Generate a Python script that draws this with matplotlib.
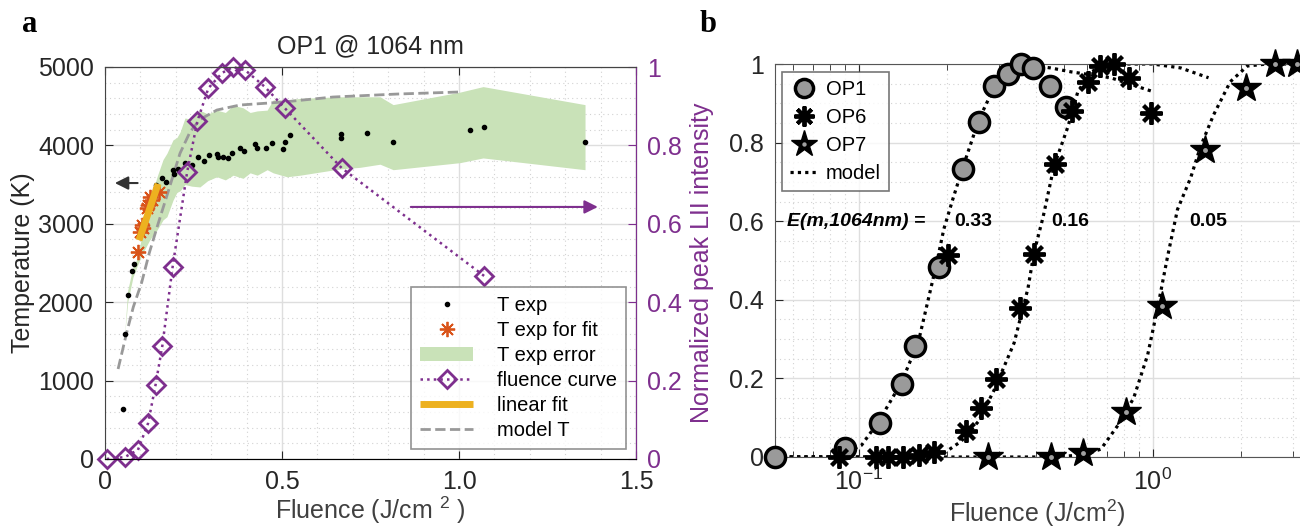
import matplotlib.pyplot as plt
from matplotlib.ticker import MultipleLocator, FixedLocator, FixedFormatter, LogLocator, NullFormatter

plt.rcParams['font.family'] = ['Liberation Sans', 'DejaVu Sans']
plt.rcParams['mathtext.fontset'] = 'custom'
plt.rcParams['mathtext.rm'] = 'Liberation Sans'

# ---------------- panel a data ----------------
t_fluence = [0.051, 0.056, 0.064, 0.076, 0.081, 0.144, 0.161, 0.172, 0.192, 0.195, 0.206, 0.226,
             0.245, 0.263, 0.280, 0.294, 0.316, 0.318, 0.333, 0.347, 0.359, 0.381, 0.393, 0.424,
             0.429, 0.455, 0.472, 0.503, 0.508, 0.523, 0.666, 0.666, 0.740, 0.814, 1.031, 1.071, 1.356]
t_exp = [638, 1594, 2092, 2398, 2487, 3495, 3585, 3533, 3686, 3640, 3699, 3775,
         3750, 3852, 3801, 3877, 3890, 3850, 3852, 3839, 3903, 3967, 3929, 4018,
         3967, 3967, 4031, 3954, 4043, 4133, 4145, 4094, 4158, 4043, 4196, 4235, 4043]

fit_fluence = [0.094, 0.099, 0.104, 0.108, 0.118, 0.122, 0.127, 0.134, 0.153]
fit_t = [2645, 2900, 2985, 2950, 3200, 3240, 3346, 3300, 3410]

err_fluence = [0.056, 0.064, 0.079, 0.090, 0.107, 0.127, 0.147, 0.164, 0.175, 0.192, 0.203, 0.212,
               0.226, 0.245, 0.268, 0.290, 0.316, 0.340, 0.362, 0.390, 0.410, 0.430, 0.458, 0.475,
               0.514, 0.551, 0.664, 0.720, 0.777, 0.814, 1.003, 1.068, 1.356]
err_low = [1600, 2000, 2320, 2450, 2630, 2800, 2920, 3050, 3090, 3300, 3400, 3420,
           3500, 3480, 3470, 3550, 3600, 3560, 3620, 3580, 3650, 3620, 3690, 3650,
           3600, 3620, 3700, 3720, 3760, 3690, 3780, 3840, 3690]
err_high = [1620, 2150, 2450, 2550, 2900, 3300, 3600, 3820, 3900, 4070, 4100, 4170,
            4350, 4330, 4450, 4400, 4450, 4420, 4510, 4480, 4420, 4440, 4450, 4580,
            4580, 4600, 4620, 4620, 4620, 4520, 4680, 4750, 4520]

model_fluence = [0.037, 0.061, 0.080, 0.104, 0.125, 0.150, 0.174, 0.212, 0.240, 0.268, 0.316,
                 0.381, 0.503, 0.644, 0.825, 1.0]
model_t = [1148, 1607, 1939, 2258, 2627, 3000, 3346, 3900, 4170, 4330, 4451,
           4515, 4553, 4617, 4655, 4681]

linfit_fluence = [0.096, 0.150]
linfit_t = [2790, 3510]

curve_fluence = [0.005, 0.056, 0.093, 0.122, 0.143, 0.162, 0.191, 0.232, 0.261, 0.292, 0.331,
                 0.361, 0.396, 0.452, 0.508, 0.669, 1.071]
curve_int = [0.0, 0.005, 0.023, 0.092, 0.19, 0.289, 0.49, 0.732, 0.862, 0.946, 0.985,
             1.0, 0.992, 0.949, 0.895, 0.742, 0.467]

# ---------------- panel b data ----------------
op1_x = [0.052, 0.0897, 0.118, 0.140, 0.156, 0.188, 0.226, 0.257, 0.289, 0.322, 0.357, 0.392, 0.448, 0.507]
op1_y = [0.0, 0.023, 0.087, 0.186, 0.283, 0.484, 0.733, 0.853, 0.944, 0.975, 1.0, 0.99, 0.944, 0.89]

op6_x = [0.0855, 0.115, 0.126, 0.142, 0.160, 0.180, 0.202, 0.232, 0.261, 0.293, 0.353, 0.396,
         0.466, 0.531, 0.603, 0.66, 0.74, 0.83, 0.99]
op6_y = [0.0, 0.0, 0.0, 0.0, 0.005, 0.012, 0.515, 0.066, 0.125, 0.198, 0.38, 0.517,
         0.745, 0.88, 0.955, 0.995, 1.0, 0.965, 0.875]

op7_x = [0.276, 0.451, 0.579, 0.809, 1.073, 1.51, 2.07, 2.61, 3.09]
op7_y = [0.0, 0.0, 0.01, 0.115, 0.385, 0.78, 0.94, 1.0, 1.0]

m1_x = [0.052, 0.080, 0.0897, 0.1024, 0.117, 0.140, 0.160, 0.184, 0.195, 0.210, 0.227, 0.257,
        0.289, 0.322, 0.357, 0.40, 0.45, 0.528, 0.72, 1.0]
m1_y = [0.0, 0.0, 0.01, 0.03, 0.09, 0.19, 0.295, 0.49, 0.58, 0.66, 0.74, 0.86,
        0.94, 0.98, 1.0, 0.995, 0.99, 0.98, 0.965, 0.93]

m6_x = [0.052, 0.150, 0.191, 0.2234, 0.2553, 0.289, 0.338, 0.377, 0.395, 0.424, 0.462, 0.515,
        0.557, 0.617, 0.704, 1.0, 1.245, 1.549]
m6_y = [0.0, 0.0, 0.005, 0.04, 0.09, 0.17, 0.29, 0.43, 0.52, 0.61, 0.74, 0.84,
        0.93, 0.98, 1.0, 1.0, 0.99, 0.965]

m7_x = [0.052, 0.45, 0.58, 0.667, 0.761, 0.862, 0.962, 1.04, 1.124, 1.215, 1.346, 1.455,
        1.61, 1.837, 2.10, 2.45, 3.2]
m7_y = [0.0, 0.0, 0.005, 0.02, 0.08, 0.15, 0.26, 0.38, 0.51, 0.63, 0.71, 0.79,
        0.87, 0.955, 0.995, 1.0, 1.0]

e_labels = ['0.33', '0.16', '0.05']
e_label_x = [0.2115, 0.451, 1.33]

purple = '#7E2F8E'
txt = '#262626'
gridc = '#dedede'

fig = plt.figure(figsize=(13, 5.3), dpi=100)

# ================= panel a =================
ax = fig.add_axes([105 / 1300, 1 - 459 / 530, 531 / 1300, 392 / 530])
ax2 = ax.twinx()

ax.fill_between(err_fluence, err_low, err_high, color='#C9E2B8', lw=0, label='T exp error', zorder=1)
ax.plot(t_fluence, t_exp, 'k.', ms=6, label='T exp', zorder=3)
ax.plot(fit_fluence, fit_t, ls='none', marker=(8, 2, 0), ms=11, mew=1.3, color='#D95319',
        label='T exp for fit', zorder=3)
ax.plot(linfit_fluence, linfit_t, color='#EDB120', lw=5, label='linear fit', zorder=4, solid_capstyle='butt')
ax.plot(model_fluence, model_t, color='#999999', ls='--', lw=2, label='model T', zorder=2)
ln_curve, = ax2.plot(curve_fluence, curve_int, ls=':', lw=1.8, color=purple, marker='D', ms=9,
                     mfc='none', mew=2, label='fluence curve', clip_on=False)

ax.set_xlim(0, 1.5)
ax.set_ylim(0, 5000)
ax2.set_ylim(0, 1)
ax.xaxis.set_major_locator(FixedLocator([0, 0.5, 1.0, 1.5]))
ax.xaxis.set_major_formatter(FixedFormatter(['0', '0.5', '1.0', '1.5']))
ax.xaxis.set_minor_locator(MultipleLocator(0.1))
ax.yaxis.set_major_locator(MultipleLocator(1000))
ax.yaxis.set_minor_locator(MultipleLocator(200))
ax2.yaxis.set_major_locator(FixedLocator([0, 0.2, 0.4, 0.6, 0.8, 1.0]))
ax2.yaxis.set_major_formatter(FixedFormatter(['0', '0.2', '0.4', '0.6', '0.8', '1']))

ax.grid(True, which='major', color=gridc, lw=1)
ax.grid(True, which='minor', color='#d2d2d2', lw=0.8, ls=(0, (1, 3)))
ax.set_axisbelow(True)
ax.tick_params(which='major', direction='in', length=6, labelsize=18, colors=txt, top=True, pad=8)
ax.tick_params(which='minor', length=0)
ax2.tick_params(which='major', direction='in', length=6, labelsize=18, colors=purple, pad=8)
ax2.tick_params(which='minor', length=0)
for s in ['left', 'bottom', 'top']:
    ax.spines[s].set_color('#444444')
ax2.spines['right'].set_color(purple)
ax2.spines['left'].set_visible(False)
ax2.spines['top'].set_color('#444444')

ax.set_xlabel('Fluence (J/cm $^2$ )', fontsize=18, color='#404040', labelpad=0)
ax.set_ylabel('Temperature (K)', fontsize=18, color=txt, labelpad=2)
ax2.set_ylabel('Normalized peak LII intensity', fontsize=18, color=purple, labelpad=6)
ax.set_title('OP1 @ 1064 nm', fontsize=18, color=txt, pad=10)

ax.annotate('', xy=(0.02, 3520), xytext=(0.10, 3520),
            arrowprops=dict(arrowstyle='-|>', color='#333333', lw=1.5, mutation_scale=20))
ax2.annotate('', xy=(1.40, 0.643), xytext=(0.856, 0.643),
             arrowprops=dict(arrowstyle='-|>', color=purple, lw=1.5, mutation_scale=20))

h1, l1 = ax.get_legend_handles_labels()
hd = dict(zip(l1, h1))
handles = [hd['T exp'], hd['T exp for fit'], hd['T exp error'], ln_curve, hd['linear fit'], hd['model T']]
labels = ['T exp', 'T exp for fit', 'T exp error', 'fluence curve', 'linear fit', 'model T']
leg = ax2.legend(handles, labels, loc='lower right', bbox_to_anchor=(0.981, 0.0255), borderaxespad=0,
                 fontsize=14.5, frameon=True, fancybox=False, edgecolor='#777777', labelspacing=0.3,
                 handlelength=2.6, handletextpad=1.2, borderpad=0.45)
leg.get_frame().set_linewidth(1.2)

# ================= panel b =================
bx = fig.add_axes([775 / 1300, 1 - 457 / 530, 525 / 1300, 393 / 530])
dot = (0, (1, 1.3))
bx.plot(m1_x, m1_y, color='k', ls=dot, lw=2.3, zorder=2)
bx.plot(m6_x, m6_y, color='k', ls=dot, lw=2.3, zorder=2)
ln_model, = bx.plot(m7_x, m7_y, color='k', ls=dot, lw=2.3, zorder=2)
p1, = bx.plot(op1_x, op1_y, ls='none', marker='o', ms=14.5, mfc='#9a9a9a', mec='k', mew=2.5,
              clip_on=False, zorder=3)
p6, = bx.plot(op6_x, op6_y, ls='none', marker=(8, 2, 0), ms=16, mec='k', mew=2.8,
              clip_on=False, zorder=3)
p7, = bx.plot(op7_x, op7_y, ls='none', marker='*', ms=22, mfc='k', mec='k', mew=1,
              clip_on=False, zorder=3)
p7c, = bx.plot(op7_x, op7_y, ls='none', marker='o', ms=3.5, mfc='#a0a0a0', mec='none',
               clip_on=False, zorder=4)

bx.set_xscale('log')
bx.set_xlim(0.052, 3.17)
bx.set_ylim(0, 1)
bx.xaxis.set_major_locator(LogLocator(base=10))
bx.xaxis.set_minor_locator(LogLocator(base=10, subs=range(2, 10)))
bx.xaxis.set_minor_formatter(NullFormatter())
bx.yaxis.set_major_locator(FixedLocator([0, 0.2, 0.4, 0.6, 0.8, 1.0]))
bx.yaxis.set_major_formatter(FixedFormatter(['0', '0.2', '0.4', '0.6', '0.8', '1']))
bx.yaxis.set_minor_locator(MultipleLocator(0.05))
bx.grid(True, which='major', color=gridc, lw=1)
bx.grid(True, which='minor', color='#d2d2d2', lw=0.8, ls=(0, (1, 3)))
bx.set_axisbelow(True)
bx.tick_params(which='major', direction='in', length=6, labelsize=18, colors=txt, top=True, pad=8)
bx.tick_params(axis='x', which='minor', direction='in', length=4, top=True, colors=txt)
bx.tick_params(axis='y', which='minor', length=0)
bx.spines['right'].set_visible(False)
for s in ['left', 'bottom', 'top']:
    bx.spines[s].set_color('#555555')
bx.set_xlabel('Fluence (J/cm$^2$)', fontsize=18, color='#404040', labelpad=2)

bx.text(0.057, 0.6, 'E(m,1064nm) =', fontsize=14, fontweight='bold', fontstyle='italic', va='center')
for lab, xx in zip(e_labels, e_label_x):
    bx.text(xx, 0.6, lab, fontsize=14, fontweight='bold', va='center')

lb = bx.legend([p1, p6, (p7, p7c), ln_model], ['OP1', 'OP6', 'OP7', 'model'], loc='upper left',
               bbox_to_anchor=(0.013, 0.98), borderaxespad=0, fontsize=14.5, frameon=True,
               fancybox=False, edgecolor='#555555', labelspacing=0.45, handlelength=1.4,
               handletextpad=0.4, borderpad=0.4, markerscale=0.9)
lb.get_frame().set_linewidth(1.2)

fig.text(22 / 1300, 1 - 25 / 530, 'a', fontsize=22, fontweight='bold', family='Liberation Serif', va='center')
fig.text(700 / 1300, 1 - 25 / 530, 'b', fontsize=22, fontweight='bold', family='Liberation Serif', va='center')

fig.savefig('out.png', dpi=100)
